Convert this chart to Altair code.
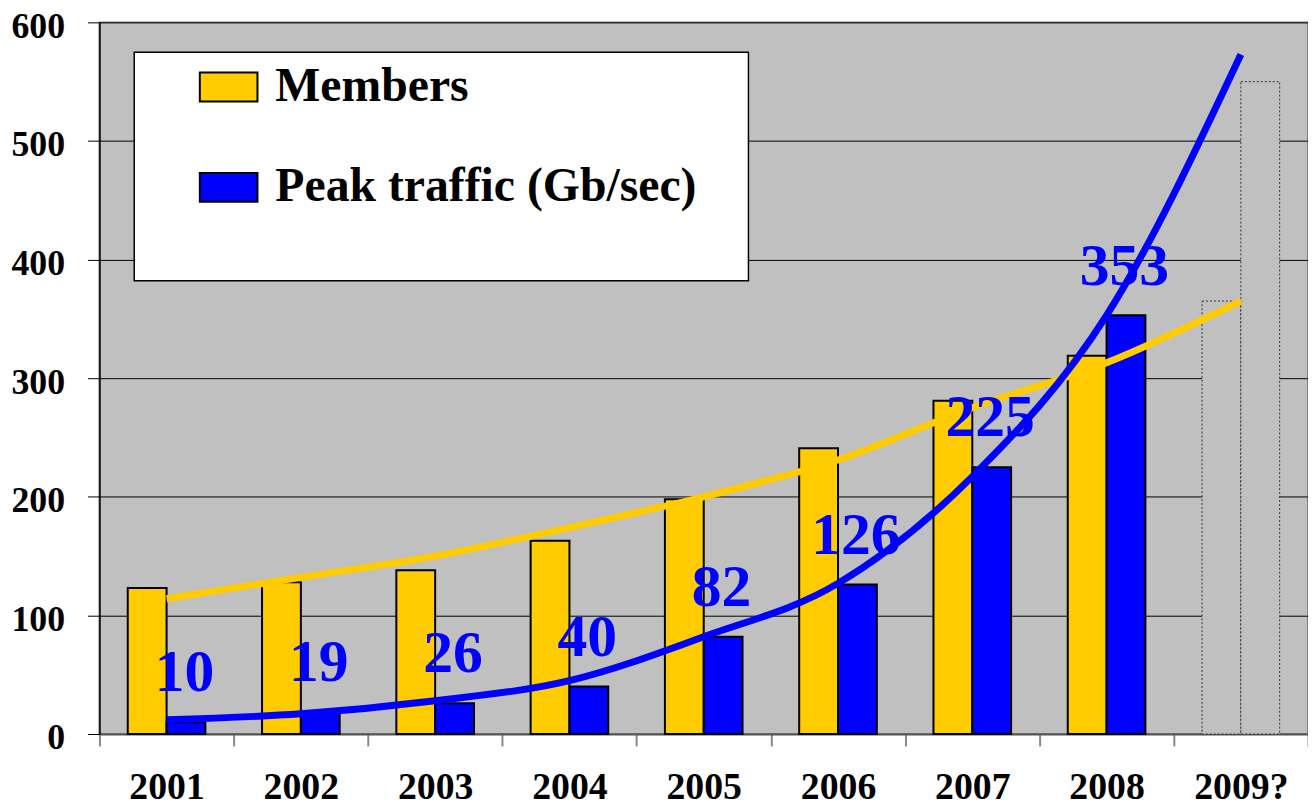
import altair as alt
import pandas as pd

years = ["2001", "2002", "2003", "2004", "2005", "2006", "2007", "2008", "2009?"]
series_names = ["Members", "Peak traffic (Gb/sec)"]
members = [123, 128, 138, 163, 198, 241, 281, 319]
peak = [10, 19, 26, 40, 82, 126, 225, 353]
projected_year = "2009?"
projected_members = 365
projected_peak = 550
members_trend = [114, 132, 150, 174, 200, 231, 275, 313, 365]
peak_trend = [12, 17, 28, 45, 82, 127, 217, 353, 573]
peak_labels = ["10", "19", "26", "40", "82", "126", "225", "353"]
y_ticks = [0, 100, 200, 300, 400, 500, 600]

FONT = "Liberation Serif"
NBSP = "\u00a0"
BLANK = "\u2800"

bar_rows = []
for y, m, p in zip(years, members, peak):
    bar_rows.append({"year": y, "series": series_names[0], "value": m})
    bar_rows.append({"year": y, "series": series_names[1], "value": p})
bars_df = pd.DataFrame(bar_rows)

proj_df = pd.DataFrame([
    {"year": projected_year, "series": series_names[0], "value": projected_members},
    {"year": projected_year, "series": series_names[1], "value": projected_peak},
])

trend_df = pd.DataFrame({"year": years, "members_trend": members_trend, "peak_trend": peak_trend})
label_df = pd.DataFrame({"year": years[:8], "value": peak, "label": peak_labels})

x_enc = alt.X(
    "year:N",
    scale=alt.Scale(domain=years, paddingInner=0, paddingOuter=0),
    axis=alt.Axis(
        title=None, labelAngle=0, tickBand="extent", grid=False,
        labelFont=FONT, labelFontWeight="bold", labelFontSize=38, labelColor="black",
        labelBaseline="alphabetic", tickSize=12, labelPadding=53,
        domainColor="#555555", tickColor="#888888", tickWidth=2, domainWidth=2,
    ),
)
xoff_enc = alt.XOffset(
    "series:N",
    scale=alt.Scale(domain=series_names, paddingInner=0, paddingOuter=0.73),
)

y_axis = alt.Axis(
    title=None, values=y_ticks, grid=True, gridColor="black", gridWidth=1, gridOpacity=1,
    labelFont=FONT, labelFontWeight="bold", labelFontSize=36, labelColor="black",
    labelPadding=23, labelOffset=4, tickSize=12, tickColor="black",
    domainColor="black", domainWidth=1.5,
)
y_scale = alt.Scale(domain=[0, 600], nice=False, zero=True)


def yenc(field):
    return alt.Y(field, scale=y_scale, axis=y_axis)


color_enc = alt.Color(
    "series:N",
    scale=alt.Scale(domain=series_names, range=["#FFCC00", "#0000FF"]),
    legend=alt.Legend(
        title=NBSP, titleOrient="bottom", titleFont=FONT, titleFontSize=48,
        titlePadding=17,
        orient="none", legendX=35, legendY=30,
        fillColor="white", strokeColor="black",
        padding=5, rowPadding=47, symbolOffset=60,
        symbolType="M-1,-0.5H1V0.5H-1Z", symbolSize=3364,
        symbolStrokeColor="black", symbolStrokeWidth=2, symbolOpacity=1,
        labelFont=FONT, labelFontWeight="bold", labelFontSize=48, labelColor="black",
        labelOffset=17, labelLimit=0,
        labelExpr="datum.label + '" + NBSP + BLANK + "'",
    ),
)

bar_layer = alt.Chart(bars_df).mark_bar(stroke="black", strokeWidth=2, opacity=1).encode(
    x=x_enc, xOffset=xoff_enc, y=yenc("value:Q"), color=color_enc
)

proj_layer = alt.Chart(proj_df).mark_bar(
    fill="#C0C0C0", stroke="#333333", strokeWidth=1, strokeDash=[2, 2]
).encode(x=x_enc, xOffset=xoff_enc, y=yenc("value:Q"))

members_line = alt.Chart(trend_df).mark_line(
    color="#FFCC00", strokeWidth=7, interpolate="monotone"
).encode(x=x_enc, y=yenc("members_trend:Q"))

peak_line = alt.Chart(trend_df).mark_line(
    color="#0000FF", strokeWidth=7, interpolate="monotone"
).encode(x=x_enc, y=yenc("peak_trend:Q"))

labels = alt.Chart(label_df).mark_text(
    font=FONT, fontWeight="bold", fontSize=60, color="#0000FF",
    baseline="alphabetic", align="center", dx=18, dy=-31,
).encode(x=x_enc, y=yenc("value:Q"), text="label:N")

chart = alt.layer(bar_layer, proj_layer, members_line, peak_line, labels).properties(
    width=1216, height=716,
    autosize=alt.AutoSizeParams(type="none"),
    padding={"left": 92, "top": 12, "right": 0, "bottom": 72},
    background="white",
).configure_view(fill="#C0C0C0", stroke="#808080", strokeWidth=2).configure_legend(strokeWidth=1.5)

chart.save("out.html", embed_options={"renderer": "svg", "actions": False})
